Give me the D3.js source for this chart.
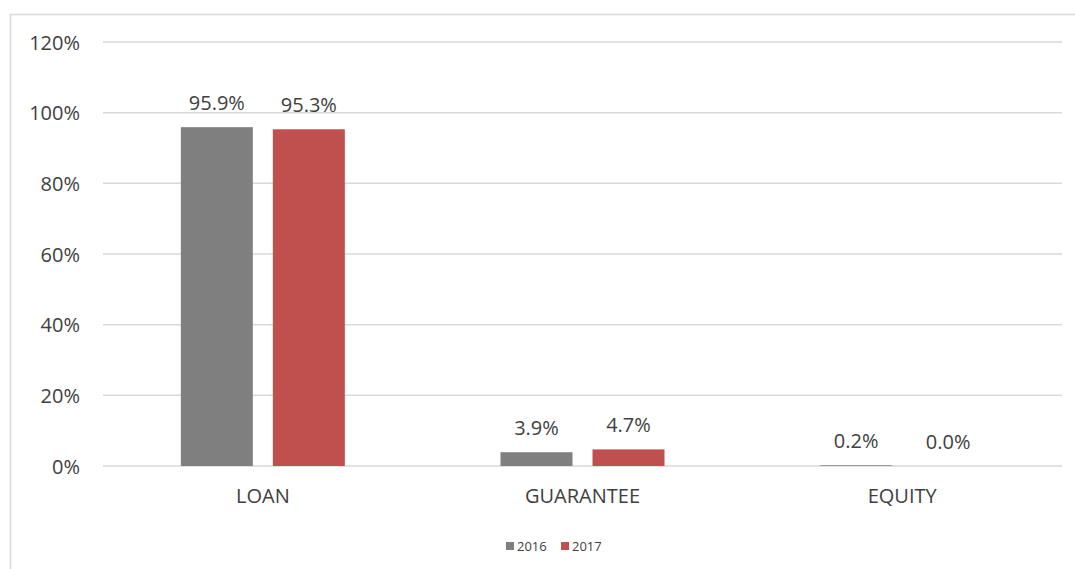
<!DOCTYPE html>
<html><head><meta charset="utf-8">
<script src="https://cdn.jsdelivr.net/npm/d3@7"></script>
<style>body{margin:0;background:#fff}svg{display:block}</style>
</head><body>
<script>
const categories = ["LOAN", "GUARANTEE", "EQUITY"];
const seriesNames = ["2016", "2017"];
const values2016 = [95.9, 3.9, 0.2];
const values2017 = [95.3, 4.7, 0.0];
const yTicks = [0, 20, 40, 60, 80, 100, 120];
const colors = ["#7f7f7f", "#c0504d"];

(function () {
const W = 1075, H = 569;
const font = "'Open Sans', Lato, 'Liberation Sans', sans-serif";
const fs = 20;
const svg = d3.select("body").append("svg").attr("width", W).attr("height", H);

svg.append("rect").attr("x", 10.5).attr("y", 14.5).attr("width", W + 10).attr("height", H + 10)
  .attr("fill", "none").attr("stroke", "#d9d9d9").attr("stroke-width", 1.5);

const pLeft = 103, pRight = 1062, pTop = 42, pBottom = 466;
const x = d3.scaleBand().domain(categories).range([pLeft, pRight]);
const y = d3.scaleLinear().domain([0, 120]).range([pBottom, pTop]);

// gridlines
svg.append("g").selectAll("line").data(yTicks).join("line")
  .attr("x1", pLeft).attr("x2", pRight)
  .attr("y1", d => y(d)).attr("y2", d => y(d))
  .attr("stroke", "#d9d9d9").attr("stroke-width", 1.5);

// y axis
const yAxis = d3.axisLeft(y).tickValues(yTicks).tickFormat(d => d + "%").tickSize(0).tickPadding(0);
const gy = svg.append("g").attr("transform", "translate(80,0)").call(yAxis);
gy.select(".domain").remove();
gy.selectAll("text").attr("font-family", font).attr("font-size", fs).attr("fill", "#404040").attr("dy", "0.35em");

// x axis
const xAxis = d3.axisBottom(x).tickSize(0).tickPadding(0);
const gx = svg.append("g").attr("transform", `translate(0,${pBottom + 23})`).call(xAxis);
gx.select(".domain").remove();
gx.selectAll("text").attr("font-family", font).attr("font-size", fs).attr("fill", "#404040").attr("dy", "0.71em");

const data = [values2016, values2017];
const barW = 72, gap = 20;
const offset = (x.bandwidth() - (2 * barW + gap)) / 2;
seriesNames.forEach((s, si) => {
  const g = svg.append("g");
  const bx = c => x(c) + offset + si * (barW + gap);
  g.selectAll("rect").data(categories).join("rect")
    .attr("x", c => bx(c)).attr("width", barW)
    .attr("y", (c, i) => y(data[si][i])).attr("height", (c, i) => pBottom - y(data[si][i]))
    .attr("fill", colors[si]);
  g.selectAll("text").data(categories).join("text")
    .attr("x", c => bx(c) + barW / 2).attr("y", (c, i) => y(data[si][i]) - 17)
    .attr("text-anchor", "middle").attr("font-family", font).attr("font-size", fs).attr("fill", "#404040")
    .text((c, i) => data[si][i].toFixed(1) + "%");
});

// legend
const lg = svg.append("g").attr("transform", "translate(506,546)");
const legX = [0, 55];
seriesNames.forEach((s, i) => {
  lg.append("rect").attr("x", legX[i]).attr("y", -4).attr("width", 8).attr("height", 8).attr("fill", colors[i]);
  lg.append("text").attr("x", legX[i] + 11).attr("y", 0).attr("dy", "0.35em")
    .attr("font-family", font).attr("font-size", 13).attr("fill", "#404040").text(s);
});
})();
</script>
</body></html>
